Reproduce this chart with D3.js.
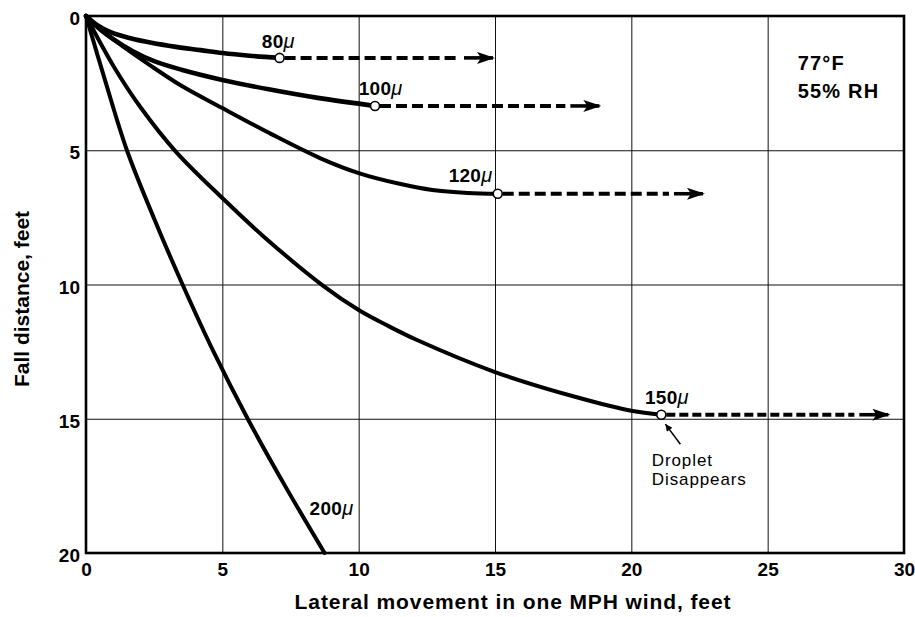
<!DOCTYPE html>
<html>
<head>
<meta charset="utf-8">
<script src="https://cdn.jsdelivr.net/npm/d3@7"></script>
<style>
  body { margin: 0; background: #fff; }
  svg { font-family: "Liberation Sans", Arial, Helvetica, sans-serif; }
  .axis text { font-size: 19px; font-weight: bold; fill: #000; }
  .axis line { stroke: #111; stroke-width: 1; }
  .axis .domain { display: none; }
</style>
</head>
<body>
<svg id="chart" width="915" height="617"></svg>
<script>
// tick labels
const xTicks = [0, 5, 10, 15, 20, 25, 30];
const yTicks = [0, 5, 10, 15, 20];

// droplet sizes (microns) and the solid trajectories
const sizes = ['80', '100', '120', '150', '200'];
const x80 = [0, 0.4, 0.9, 1.6, 2.4, 3.3, 4.2, 5.0, 6.0, 7.1];
const y80 = [0, 0.33, 0.6, 0.82, 1.0, 1.15, 1.27, 1.38, 1.48, 1.56];
const x100 = [0, 0.5, 1.0, 1.7, 2.5, 3.5, 5.0, 6.7, 8.5, 10.6];
const y100 = [0, 0.48, 0.86, 1.3, 1.68, 2.0, 2.38, 2.73, 3.05, 3.35];
const x120 = [0, 0.5, 1.2, 2.3, 3.5, 5.0, 6.8, 8.6, 10, 11.5, 12.7, 14, 15.1];
const y120 = [0, 0.47, 1.02, 1.8, 2.6, 3.43, 4.4, 5.3, 5.85, 6.25, 6.48, 6.59, 6.62];
const x150 = [0, 1.0, 2.0, 3.3, 5.0, 6.5, 8.7, 10, 11, 12.1, 15, 18, 20, 21.1];
const y150 = [0, 1.85, 3.4, 5.06, 6.78, 8.2, 10.05, 10.95, 11.5, 12.05, 13.26, 14.2, 14.7, 14.85];
const x200 = [0, 0.7, 1.5, 2.5, 3.54, 4.7, 5.93, 7.3, 8.75];
const y200 = [0, 2.4, 5.0, 7.55, 10, 12.55, 15, 17.5, 20];

// where each droplet disappears, and where its dashed drift arrow ends
const endX = [7.1, 10.6, 15.1, 21.1];
const endY = [1.56, 3.35, 6.62, 14.85];
const arrowX = [15, 18.9, 22.7, 29.5];

const svg = d3.select('#chart');
const margin = { top: 16, right: 11, bottom: 64, left: 86 };
const width = +svg.attr('width') - margin.left - margin.right;
const height = +svg.attr('height') - margin.top - margin.bottom;

const g = svg.append('g')
  .attr('transform', `translate(${margin.left}, ${margin.top})`);

const x = d3.scaleLinear().domain([0, 30]).range([0, width]);
const y = d3.scaleLinear().domain([0, 20]).range([0, height]);

g.append('g')
  .attr('class', 'axis')
  .call(d3.axisLeft(y).tickValues(yTicks).tickSize(-width).tickPadding(6))
  .selectAll('text')
  .attr('dy', '0.45em');

g.append('g')
  .attr('class', 'axis')
  .attr('transform', `translate(0, ${height})`)
  .call(d3.axisBottom(x).tickValues(xTicks).tickSize(-height).tickPadding(10));

g.append('rect')
  .attr('width', width)
  .attr('height', height)
  .attr('fill', 'none')
  .attr('stroke', '#000')
  .attr('stroke-width', 2.6);

const defs = svg.append('defs');
defs.append('marker')
  .attr('id', 'head')
  .attr('viewBox', '0 0 18 12')
  .attr('refX', 16)
  .attr('refY', 6)
  .attr('markerUnits', 'userSpaceOnUse')
  .attr('markerWidth', 18)
  .attr('markerHeight', 12)
  .attr('orient', 'auto')
  .append('path')
  .attr('d', 'M0,0 L18,6 L0,12 L4,6 Z')
  .attr('fill', '#000');
defs.append('marker')
  .attr('id', 'small-head')
  .attr('viewBox', '0 0 10 10')
  .attr('refX', 10)
  .attr('refY', 5)
  .attr('markerUnits', 'userSpaceOnUse')
  .attr('markerWidth', 9)
  .attr('markerHeight', 7)
  .attr('orient', 'auto')
  .append('path')
  .attr('d', 'M0,0 L10,5 L0,10 Z')
  .attr('fill', '#000');

const line = d3.line()
  .x(d => x(d[0]))
  .y(d => y(d[1]))
  .curve(d3.curveCatmullRom.alpha(0.5));

const tracks = [[x80, y80], [x100, y100], [x120, y120], [x150, y150], [x200, y200]];

g.selectAll('.track')
  .data(tracks)
  .enter()
  .append('path')
  .attr('class', 'track')
  .attr('d', d => line(d[0].map((v, i) => [v, d[1][i]])))
  .attr('fill', 'none')
  .attr('stroke', '#000')
  .attr('stroke-width', (d, i) => (i < 2 ? 4.6 : 4))
  .attr('stroke-linecap', 'round');

// dashed drift after the droplet disappears; the last stretch is a solid shaft
g.selectAll('.drift')
  .data(endX)
  .enter()
  .append('line')
  .attr('class', 'drift')
  .attr('x1', d => x(d) + 5)
  .attr('y1', (d, i) => y(endY[i]))
  .attr('x2', (d, i) => x(arrowX[i]) - 36)
  .attr('y2', (d, i) => y(endY[i]))
  .attr('stroke', '#000')
  .attr('stroke-width', 4)
  .attr('stroke-dasharray', (d, i) => (i === 3 ? '9,4' : '11,5'));

g.selectAll('.shaft')
  .data(arrowX)
  .enter()
  .append('line')
  .attr('class', 'shaft')
  .attr('x1', d => x(d) - 31)
  .attr('y1', (d, i) => y(endY[i]))
  .attr('x2', d => x(d) - 2)
  .attr('y2', (d, i) => y(endY[i]))
  .attr('stroke', '#000')
  .attr('stroke-width', 3.6)
  .attr('marker-end', 'url(#head)');

g.selectAll('.end')
  .data(endX)
  .enter()
  .append('circle')
  .attr('class', 'end')
  .attr('cx', d => x(d))
  .attr('cy', (d, i) => y(endY[i]))
  .attr('r', 4.5)
  .attr('fill', '#fff')
  .attr('stroke', '#000')
  .attr('stroke-width', 1.6);

// size labels: [size index, x, y] in data units
const labelPos = [[0, 6.45, 1.19], [1, 10.0, 2.95], [2, 13.3, 6.2], [3, 20.5, 14.45], [4, 8.2, 18.6]];

const labels = g.selectAll('.size')
  .data(labelPos)
  .enter()
  .append('text')
  .attr('class', 'size')
  .attr('x', d => x(d[1]))
  .attr('y', d => y(d[2]))
  .attr('font-size', 19)
  .attr('font-weight', 'bold')
  .attr('letter-spacing', 0.3)
  .text(d => sizes[d[0]]);

labels.append('tspan')
  .attr('font-style', 'italic')
  .attr('font-weight', 'normal')
  .attr('font-size', 20)
  .text('\u03bc');

// conditions note
const note = g.append('text')
  .attr('x', x(26.1))
  .attr('y', y(2.0))
  .attr('font-size', 20)
  .attr('font-weight', 'bold')
  .attr('letter-spacing', 1.2);
note.append('tspan').text('77°F');
note.append('tspan').attr('x', x(26.1)).attr('dy', 28).text('55% RH');

// "Droplet Disappears" callout
g.append('line')
  .attr('x1', x(21.8))
  .attr('y1', y(15.95))
  .attr('x2', x(21.25))
  .attr('y2', y(15.2))
  .attr('stroke', '#000')
  .attr('stroke-width', 1.5)
  .attr('marker-end', 'url(#small-head)');

const callout = g.append('text')
  .attr('x', x(20.75))
  .attr('y', y(16.75))
  .attr('font-size', 17)
  .attr('letter-spacing', 0.9);
callout.append('tspan').text('Droplet');
callout.append('tspan').attr('x', x(20.75)).attr('dy', 19).text('Disappears');

// axis titles
svg.append('text')
  .attr('x', 513)
  .attr('y', 609)
  .attr('text-anchor', 'middle')
  .attr('font-size', 21)
  .attr('font-weight', 'bold')
  .attr('letter-spacing', 0.9)
  .text('Lateral movement in one MPH wind, feet');

svg.append('text')
  .attr('transform', 'translate(29, 299) rotate(-90)')
  .attr('text-anchor', 'middle')
  .attr('font-size', 21)
  .attr('font-weight', 'bold')
  .text('Fall distance, feet');
</script>
</body>
</html>
